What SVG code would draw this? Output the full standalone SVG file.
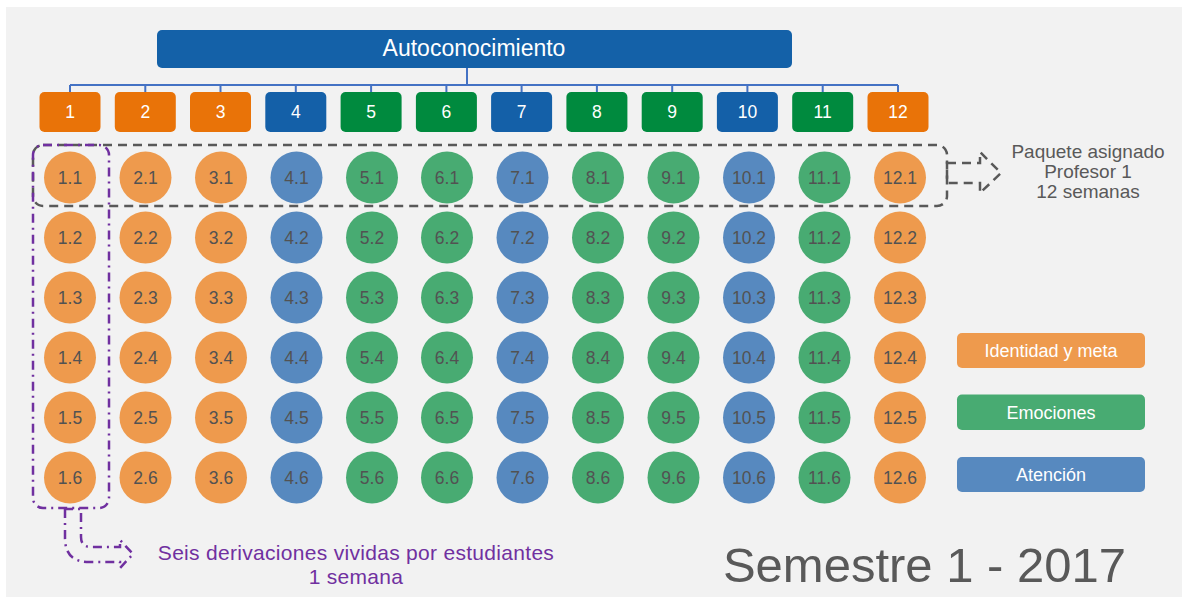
<svg xmlns="http://www.w3.org/2000/svg" width="1182" height="597" viewBox="0 0 1182 597">
<style>
text{font-family:"Liberation Sans",Arial,sans-serif;text-anchor:middle}
.co{fill:#ee9a4d}.cb{fill:#5789bf}.cg{fill:#48ab72}
.ho{fill:#e97308}.hb{fill:#1460a8}.hg{fill:#008a3e}
.cl{font-size:17.5px;fill:#525252}
.hl{font-size:17.5px;fill:#fff}
.lg{font-size:18px;fill:#fff}
.conn{stroke:#4472c4;stroke-width:2;fill:none}
</style>
<rect x="6" y="7" width="1176" height="590" fill="#f2f2f2"/>
<g id="title"><rect x="157" y="30" width="635" height="38" rx="5" fill="#1461a8"/><text x="474" y="55.5" font-size="23" fill="#fff">Autoconocimiento</text></g>
<g id="connectors" class="conn">
<path d="M467,68V85M70,85H898M70,85V92M145.3,85V92M220.5,85V92M295.8,85V92M371.1,85V92M446.4,85V92M521.6,85V92M596.9,85V92M672.2,85V92M747.4,85V92M822.7,85V92M898,85V92"/>
</g>
<g id="headers">
<g id="h1"><rect class="ho" x="39.5" y="92" width="61" height="40" rx="5"/><text class="hl" x="70" y="118">1</text></g>
<g id="h2"><rect class="ho" x="114.8" y="92" width="61" height="40" rx="5"/><text class="hl" x="145.3" y="118">2</text></g>
<g id="h3"><rect class="ho" x="190" y="92" width="61" height="40" rx="5"/><text class="hl" x="220.5" y="118">3</text></g>
<g id="h4"><rect class="hb" x="265.3" y="92" width="61" height="40" rx="5"/><text class="hl" x="295.8" y="118">4</text></g>
<g id="h5"><rect class="hg" x="340.6" y="92" width="61" height="40" rx="5"/><text class="hl" x="371.1" y="118">5</text></g>
<g id="h6"><rect class="hg" x="415.9" y="92" width="61" height="40" rx="5"/><text class="hl" x="446.4" y="118">6</text></g>
<g id="h7"><rect class="hb" x="491.1" y="92" width="61" height="40" rx="5"/><text class="hl" x="521.6" y="118">7</text></g>
<g id="h8"><rect class="hg" x="566.4" y="92" width="61" height="40" rx="5"/><text class="hl" x="596.9" y="118">8</text></g>
<g id="h9"><rect class="hg" x="641.7" y="92" width="61" height="40" rx="5"/><text class="hl" x="672.2" y="118">9</text></g>
<g id="h10"><rect class="hb" x="716.9" y="92" width="61" height="40" rx="5"/><text class="hl" x="747.4" y="118">10</text></g>
<g id="h11"><rect class="hg" x="792.2" y="92" width="61" height="40" rx="5"/><text class="hl" x="822.7" y="118">11</text></g>
<g id="h12"><rect class="ho" x="867.5" y="92" width="61" height="40" rx="5"/><text class="hl" x="898" y="118">12</text></g>
</g>
<g id="grid">
<g id="n1-1"><circle class="co" cx="70" cy="177.5" r="26"/><text class="cl" x="70" y="183.5">1.1</text></g>
<g id="n2-1"><circle class="co" cx="145.5" cy="177.5" r="26"/><text class="cl" x="145.5" y="183.5">2.1</text></g>
<g id="n3-1"><circle class="co" cx="221" cy="177.5" r="26"/><text class="cl" x="221" y="183.5">3.1</text></g>
<g id="n4-1"><circle class="cb" cx="296.5" cy="177.5" r="26"/><text class="cl" x="296.5" y="183.5">4.1</text></g>
<g id="n5-1"><circle class="cg" cx="372" cy="177.5" r="26"/><text class="cl" x="372" y="183.5">5.1</text></g>
<g id="n6-1"><circle class="cg" cx="447" cy="177.5" r="26"/><text class="cl" x="447" y="183.5">6.1</text></g>
<g id="n7-1"><circle class="cb" cx="522.5" cy="177.5" r="26"/><text class="cl" x="522.5" y="183.5">7.1</text></g>
<g id="n8-1"><circle class="cg" cx="598" cy="177.5" r="26"/><text class="cl" x="598" y="183.5">8.1</text></g>
<g id="n9-1"><circle class="cg" cx="673.5" cy="177.5" r="26"/><text class="cl" x="673.5" y="183.5">9.1</text></g>
<g id="n10-1"><circle class="cb" cx="749" cy="177.5" r="26"/><text class="cl" x="749" y="183.5">10.1</text></g>
<g id="n11-1"><circle class="cg" cx="824.5" cy="177.5" r="26"/><text class="cl" x="824.5" y="183.5">11.1</text></g>
<g id="n12-1"><circle class="co" cx="900" cy="177.5" r="26"/><text class="cl" x="900" y="183.5">12.1</text></g>
<g id="n1-2"><circle class="co" cx="70" cy="237.5" r="26"/><text class="cl" x="70" y="243.5">1.2</text></g>
<g id="n2-2"><circle class="co" cx="145.5" cy="237.5" r="26"/><text class="cl" x="145.5" y="243.5">2.2</text></g>
<g id="n3-2"><circle class="co" cx="221" cy="237.5" r="26"/><text class="cl" x="221" y="243.5">3.2</text></g>
<g id="n4-2"><circle class="cb" cx="296.5" cy="237.5" r="26"/><text class="cl" x="296.5" y="243.5">4.2</text></g>
<g id="n5-2"><circle class="cg" cx="372" cy="237.5" r="26"/><text class="cl" x="372" y="243.5">5.2</text></g>
<g id="n6-2"><circle class="cg" cx="447" cy="237.5" r="26"/><text class="cl" x="447" y="243.5">6.2</text></g>
<g id="n7-2"><circle class="cb" cx="522.5" cy="237.5" r="26"/><text class="cl" x="522.5" y="243.5">7.2</text></g>
<g id="n8-2"><circle class="cg" cx="598" cy="237.5" r="26"/><text class="cl" x="598" y="243.5">8.2</text></g>
<g id="n9-2"><circle class="cg" cx="673.5" cy="237.5" r="26"/><text class="cl" x="673.5" y="243.5">9.2</text></g>
<g id="n10-2"><circle class="cb" cx="749" cy="237.5" r="26"/><text class="cl" x="749" y="243.5">10.2</text></g>
<g id="n11-2"><circle class="cg" cx="824.5" cy="237.5" r="26"/><text class="cl" x="824.5" y="243.5">11.2</text></g>
<g id="n12-2"><circle class="co" cx="900" cy="237.5" r="26"/><text class="cl" x="900" y="243.5">12.2</text></g>
<g id="n1-3"><circle class="co" cx="70" cy="297.5" r="26"/><text class="cl" x="70" y="303.5">1.3</text></g>
<g id="n2-3"><circle class="co" cx="145.5" cy="297.5" r="26"/><text class="cl" x="145.5" y="303.5">2.3</text></g>
<g id="n3-3"><circle class="co" cx="221" cy="297.5" r="26"/><text class="cl" x="221" y="303.5">3.3</text></g>
<g id="n4-3"><circle class="cb" cx="296.5" cy="297.5" r="26"/><text class="cl" x="296.5" y="303.5">4.3</text></g>
<g id="n5-3"><circle class="cg" cx="372" cy="297.5" r="26"/><text class="cl" x="372" y="303.5">5.3</text></g>
<g id="n6-3"><circle class="cg" cx="447" cy="297.5" r="26"/><text class="cl" x="447" y="303.5">6.3</text></g>
<g id="n7-3"><circle class="cb" cx="522.5" cy="297.5" r="26"/><text class="cl" x="522.5" y="303.5">7.3</text></g>
<g id="n8-3"><circle class="cg" cx="598" cy="297.5" r="26"/><text class="cl" x="598" y="303.5">8.3</text></g>
<g id="n9-3"><circle class="cg" cx="673.5" cy="297.5" r="26"/><text class="cl" x="673.5" y="303.5">9.3</text></g>
<g id="n10-3"><circle class="cb" cx="749" cy="297.5" r="26"/><text class="cl" x="749" y="303.5">10.3</text></g>
<g id="n11-3"><circle class="cg" cx="824.5" cy="297.5" r="26"/><text class="cl" x="824.5" y="303.5">11.3</text></g>
<g id="n12-3"><circle class="co" cx="900" cy="297.5" r="26"/><text class="cl" x="900" y="303.5">12.3</text></g>
<g id="n1-4"><circle class="co" cx="70" cy="357.5" r="26"/><text class="cl" x="70" y="363.5">1.4</text></g>
<g id="n2-4"><circle class="co" cx="145.5" cy="357.5" r="26"/><text class="cl" x="145.5" y="363.5">2.4</text></g>
<g id="n3-4"><circle class="co" cx="221" cy="357.5" r="26"/><text class="cl" x="221" y="363.5">3.4</text></g>
<g id="n4-4"><circle class="cb" cx="296.5" cy="357.5" r="26"/><text class="cl" x="296.5" y="363.5">4.4</text></g>
<g id="n5-4"><circle class="cg" cx="372" cy="357.5" r="26"/><text class="cl" x="372" y="363.5">5.4</text></g>
<g id="n6-4"><circle class="cg" cx="447" cy="357.5" r="26"/><text class="cl" x="447" y="363.5">6.4</text></g>
<g id="n7-4"><circle class="cb" cx="522.5" cy="357.5" r="26"/><text class="cl" x="522.5" y="363.5">7.4</text></g>
<g id="n8-4"><circle class="cg" cx="598" cy="357.5" r="26"/><text class="cl" x="598" y="363.5">8.4</text></g>
<g id="n9-4"><circle class="cg" cx="673.5" cy="357.5" r="26"/><text class="cl" x="673.5" y="363.5">9.4</text></g>
<g id="n10-4"><circle class="cb" cx="749" cy="357.5" r="26"/><text class="cl" x="749" y="363.5">10.4</text></g>
<g id="n11-4"><circle class="cg" cx="824.5" cy="357.5" r="26"/><text class="cl" x="824.5" y="363.5">11.4</text></g>
<g id="n12-4"><circle class="co" cx="900" cy="357.5" r="26"/><text class="cl" x="900" y="363.5">12.4</text></g>
<g id="n1-5"><circle class="co" cx="70" cy="417.5" r="26"/><text class="cl" x="70" y="423.5">1.5</text></g>
<g id="n2-5"><circle class="co" cx="145.5" cy="417.5" r="26"/><text class="cl" x="145.5" y="423.5">2.5</text></g>
<g id="n3-5"><circle class="co" cx="221" cy="417.5" r="26"/><text class="cl" x="221" y="423.5">3.5</text></g>
<g id="n4-5"><circle class="cb" cx="296.5" cy="417.5" r="26"/><text class="cl" x="296.5" y="423.5">4.5</text></g>
<g id="n5-5"><circle class="cg" cx="372" cy="417.5" r="26"/><text class="cl" x="372" y="423.5">5.5</text></g>
<g id="n6-5"><circle class="cg" cx="447" cy="417.5" r="26"/><text class="cl" x="447" y="423.5">6.5</text></g>
<g id="n7-5"><circle class="cb" cx="522.5" cy="417.5" r="26"/><text class="cl" x="522.5" y="423.5">7.5</text></g>
<g id="n8-5"><circle class="cg" cx="598" cy="417.5" r="26"/><text class="cl" x="598" y="423.5">8.5</text></g>
<g id="n9-5"><circle class="cg" cx="673.5" cy="417.5" r="26"/><text class="cl" x="673.5" y="423.5">9.5</text></g>
<g id="n10-5"><circle class="cb" cx="749" cy="417.5" r="26"/><text class="cl" x="749" y="423.5">10.5</text></g>
<g id="n11-5"><circle class="cg" cx="824.5" cy="417.5" r="26"/><text class="cl" x="824.5" y="423.5">11.5</text></g>
<g id="n12-5"><circle class="co" cx="900" cy="417.5" r="26"/><text class="cl" x="900" y="423.5">12.5</text></g>
<g id="n1-6"><circle class="co" cx="70" cy="477.5" r="26"/><text class="cl" x="70" y="483.5">1.6</text></g>
<g id="n2-6"><circle class="co" cx="145.5" cy="477.5" r="26"/><text class="cl" x="145.5" y="483.5">2.6</text></g>
<g id="n3-6"><circle class="co" cx="221" cy="477.5" r="26"/><text class="cl" x="221" y="483.5">3.6</text></g>
<g id="n4-6"><circle class="cb" cx="296.5" cy="477.5" r="26"/><text class="cl" x="296.5" y="483.5">4.6</text></g>
<g id="n5-6"><circle class="cg" cx="372" cy="477.5" r="26"/><text class="cl" x="372" y="483.5">5.6</text></g>
<g id="n6-6"><circle class="cg" cx="447" cy="477.5" r="26"/><text class="cl" x="447" y="483.5">6.6</text></g>
<g id="n7-6"><circle class="cb" cx="522.5" cy="477.5" r="26"/><text class="cl" x="522.5" y="483.5">7.6</text></g>
<g id="n8-6"><circle class="cg" cx="598" cy="477.5" r="26"/><text class="cl" x="598" y="483.5">8.6</text></g>
<g id="n9-6"><circle class="cg" cx="673.5" cy="477.5" r="26"/><text class="cl" x="673.5" y="483.5">9.6</text></g>
<g id="n10-6"><circle class="cb" cx="749" cy="477.5" r="26"/><text class="cl" x="749" y="483.5">10.6</text></g>
<g id="n11-6"><circle class="cg" cx="824.5" cy="477.5" r="26"/><text class="cl" x="824.5" y="483.5">11.6</text></g>
<g id="n12-6"><circle class="co" cx="900" cy="477.5" r="26"/><text class="cl" x="900" y="483.5">12.6</text></g>
</g>
<g id="paquete">
<rect x="33" y="145" width="914" height="61" rx="10" fill="none" stroke="#595959" stroke-width="2.5" stroke-dasharray="9 6"/>
<path d="M947,163H980V152L1001,173L980,193V183H947Z" fill="none" stroke="#595959" stroke-width="2.5" stroke-dasharray="9 6"/>
<text x="1088" y="158" font-size="19" fill="#595959">Paquete asignado</text>
<text x="1088" y="178" font-size="19" fill="#595959">Profesor 1</text>
<text x="1088" y="198" font-size="19" fill="#595959">12 semanas</text>
</g>
<g id="derivaciones">
<rect x="33" y="145" width="76" height="363" rx="10" fill="none" stroke="#7030a0" stroke-width="2.5" stroke-dasharray="9 5 2 5"/>
<path d="M65,509V538Q65,562 89,562H120V568L133,554L120,540V547H91Q81,547 81,537V509Z" fill="none" stroke="#7030a0" stroke-width="2.5" stroke-dasharray="9 5 2 5"/>
<text x="356" y="560" font-size="21" letter-spacing="0.3" fill="#7030a0">Seis derivaciones vividas por estudiantes</text>
<text x="356" y="584" font-size="21" letter-spacing="0.3" fill="#7030a0">1 semana</text>
</g>
<g id="legend">
<g id="lg-identidad"><rect x="957" y="333" width="188" height="35" rx="5" fill="#ee9a4d"/><text class="lg" x="1051" y="357">Identidad y meta</text></g>
<g id="lg-emociones"><rect x="957" y="394.5" width="188" height="35.5" rx="5" fill="#48ab72"/><text class="lg" x="1051" y="418.5">Emociones</text></g>
<g id="lg-atencion"><rect x="957" y="457" width="188" height="35" rx="5" fill="#5789bf"/><text class="lg" x="1051" y="480.5">Atención</text></g>
</g>
<text x="924.5" y="582" font-size="49" fill="#595959">Semestre 1 - 2017</text>
</svg>
